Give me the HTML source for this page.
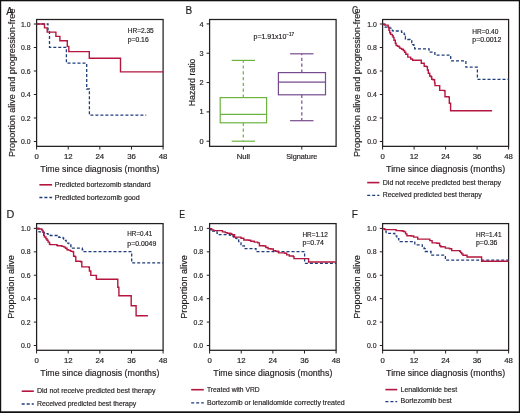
<!DOCTYPE html><html><head><meta charset="utf-8"><style>html,body{margin:0;padding:0;background:#fff;}svg{display:block;will-change:transform;}text{font-family:"Liberation Sans",sans-serif;stroke:#231f20;stroke-width:0.18px;}</style></head><body>
<svg width="520" height="413" viewBox="0 0 520 413">
<rect x="0" y="0" width="520" height="413" fill="#fff"/>
<rect x="36.6" y="19.5" width="126.5" height="126.85" fill="none" stroke="#231f20" stroke-width="1.25"/>
<line x1="33.8" y1="24" x2="36.6" y2="24" stroke="#231f20" stroke-width="1.0"/>
<text x="30.6" y="26.6" font-size="7.6" text-anchor="end" fill="#231f20" textLength="9.6" lengthAdjust="spacingAndGlyphs" >1.0</text>
<line x1="33.8" y1="47.5" x2="36.6" y2="47.5" stroke="#231f20" stroke-width="1.0"/>
<text x="30.6" y="50.1" font-size="7.6" text-anchor="end" fill="#231f20" textLength="9.6" lengthAdjust="spacingAndGlyphs" >0.8</text>
<line x1="33.8" y1="71" x2="36.6" y2="71" stroke="#231f20" stroke-width="1.0"/>
<text x="30.6" y="73.6" font-size="7.6" text-anchor="end" fill="#231f20" textLength="9.6" lengthAdjust="spacingAndGlyphs" >0.6</text>
<line x1="33.8" y1="94.5" x2="36.6" y2="94.5" stroke="#231f20" stroke-width="1.0"/>
<text x="30.6" y="97.1" font-size="7.6" text-anchor="end" fill="#231f20" textLength="9.6" lengthAdjust="spacingAndGlyphs" >0.4</text>
<line x1="33.8" y1="118" x2="36.6" y2="118" stroke="#231f20" stroke-width="1.0"/>
<text x="30.6" y="120.6" font-size="7.6" text-anchor="end" fill="#231f20" textLength="9.6" lengthAdjust="spacingAndGlyphs" >0.2</text>
<line x1="33.8" y1="141.5" x2="36.6" y2="141.5" stroke="#231f20" stroke-width="1.0"/>
<text x="30.6" y="144.1" font-size="7.6" text-anchor="end" fill="#231f20" textLength="9.6" lengthAdjust="spacingAndGlyphs" >0.0</text>
<line x1="36.6" y1="146.35" x2="36.6" y2="149.55" stroke="#231f20" stroke-width="1.0"/>
<text x="36.6" y="158.7" font-size="7.8" text-anchor="middle" fill="#231f20" >0</text>
<line x1="68.22" y1="146.35" x2="68.22" y2="149.55" stroke="#231f20" stroke-width="1.0"/>
<text x="68.22" y="158.7" font-size="7.8" text-anchor="middle" fill="#231f20" >12</text>
<line x1="99.85" y1="146.35" x2="99.85" y2="149.55" stroke="#231f20" stroke-width="1.0"/>
<text x="99.85" y="158.7" font-size="7.8" text-anchor="middle" fill="#231f20" >24</text>
<line x1="131.47" y1="146.35" x2="131.47" y2="149.55" stroke="#231f20" stroke-width="1.0"/>
<text x="131.47" y="158.7" font-size="7.8" text-anchor="middle" fill="#231f20" >36</text>
<line x1="163.1" y1="146.35" x2="163.1" y2="149.55" stroke="#231f20" stroke-width="1.0"/>
<text x="163.1" y="158.7" font-size="7.8" text-anchor="middle" fill="#231f20" >48</text>
<text x="99.85" y="171.7" font-size="9" text-anchor="middle" fill="#231f20" textLength="119" lengthAdjust="spacingAndGlyphs" >Time since diagnosis (months)</text>
<text transform="translate(15.1,82.75) rotate(-90)" x="0" y="0" font-size="9" text-anchor="middle" fill="#231f20" textLength="148.3" lengthAdjust="spacingAndGlyphs">Proportion alive and progression-free</text>
<path d="M36.6,24H48V31H49.5V47.3H66.4V63.1H86.7V89H89.4V115.2H146.2V115.2" fill="none" stroke="#1f3d7a" stroke-width="1.3" stroke-linejoin="miter" stroke-dasharray="3 2"/>
<path d="M36.6,24H44.5V27.9H47.2V32.1H55.9V36.4H59.9V40.8H67.3V46.4H68.8V51.6H89.3V58.2H120.5V71.9H163.1V71.9" fill="none" stroke="#b5163f" stroke-width="1.4" stroke-linejoin="miter"/>
<text x="127.7" y="32.8" font-size="7" text-anchor="start" fill="#231f20" textLength="26" lengthAdjust="spacingAndGlyphs" >HR=2.35</text>
<text x="127.7" y="41.5" font-size="7" text-anchor="start" fill="#231f20" textLength="21" lengthAdjust="spacingAndGlyphs" >p=0.16</text>
<line x1="39.4" y1="184.8" x2="52.1" y2="184.8" stroke="#b5163f" stroke-width="1.6"/>
<line x1="39.4" y1="197.5" x2="52.1" y2="197.5" stroke="#1f3d7a" stroke-width="1.3" stroke-dasharray="3 2"/>
<text x="54.8" y="186.8" font-size="7.4" text-anchor="start" fill="#231f20" textLength="96" lengthAdjust="spacingAndGlyphs" >Predicted bortezomib standard</text>
<text x="54.8" y="199.8" font-size="7.4" text-anchor="start" fill="#231f20" textLength="85" lengthAdjust="spacingAndGlyphs" >Predicted bortezomib good</text>
<text x="6.3" y="14.6" font-size="10" text-anchor="start" fill="#231f20" >A</text>
<rect x="209.6" y="19.5" width="126.5" height="126.85" fill="none" stroke="#231f20" stroke-width="1.25"/>
<line x1="206.6" y1="23.9" x2="209.6" y2="23.9" stroke="#231f20" stroke-width="1.0"/>
<text x="203.5" y="26.5" font-size="7.4" text-anchor="end" fill="#231f20" >4</text>
<line x1="206.6" y1="53.23" x2="209.6" y2="53.23" stroke="#231f20" stroke-width="1.0"/>
<text x="203.5" y="55.83" font-size="7.4" text-anchor="end" fill="#231f20" >3</text>
<line x1="206.6" y1="82.56" x2="209.6" y2="82.56" stroke="#231f20" stroke-width="1.0"/>
<text x="203.5" y="85.16" font-size="7.4" text-anchor="end" fill="#231f20" >2</text>
<line x1="206.6" y1="111.89" x2="209.6" y2="111.89" stroke="#231f20" stroke-width="1.0"/>
<text x="203.5" y="114.49" font-size="7.4" text-anchor="end" fill="#231f20" >1</text>
<line x1="206.6" y1="141.22" x2="209.6" y2="141.22" stroke="#231f20" stroke-width="1.0"/>
<text x="203.5" y="143.82" font-size="7.4" text-anchor="end" fill="#231f20" >0</text>
<line x1="243.4" y1="146.35" x2="243.4" y2="149.55" stroke="#231f20" stroke-width="1.0"/>
<text x="243.4" y="159" font-size="7.5" text-anchor="middle" fill="#231f20" textLength="13.3" lengthAdjust="spacingAndGlyphs" >Null</text>
<line x1="301.8" y1="146.35" x2="301.8" y2="149.55" stroke="#231f20" stroke-width="1.0"/>
<text x="301.8" y="159" font-size="7.5" text-anchor="middle" fill="#231f20" textLength="31.3" lengthAdjust="spacingAndGlyphs" >Signature</text>
<text transform="translate(194.8,82.4) rotate(-90)" x="0" y="0" font-size="9" text-anchor="middle" fill="#231f20" textLength="47.8" lengthAdjust="spacingAndGlyphs">Hazard ratio</text>
<text x="185.6" y="14" font-size="10" text-anchor="start" fill="#231f20" >B</text>
<text x="253.5" y="38.5" font-size="7" text-anchor="start" fill="#231f20" textLength="32.8" lengthAdjust="spacingAndGlyphs" >p=1.91x10</text>
<text x="286.3" y="35.7" font-size="4.8" text-anchor="start" fill="#231f20" textLength="7.8" lengthAdjust="spacingAndGlyphs" >&#8722;17</text>
<rect x="220.2" y="97.6" width="46.4" height="25.2" fill="none" stroke="#6db33f" stroke-width="1.2"/>
<line x1="220.2" y1="114.4" x2="266.6" y2="114.4" stroke="#6db33f" stroke-width="1.2"/>
<line x1="243.3" y1="97.6" x2="243.3" y2="60.4" stroke="#6db33f" stroke-width="1.2" stroke-dasharray="3.2 2.6"/>
<line x1="243.3" y1="122.8" x2="243.3" y2="141.2" stroke="#6db33f" stroke-width="1.2" stroke-dasharray="3.2 2.6"/>
<line x1="231.7" y1="60.4" x2="255" y2="60.4" stroke="#6db33f" stroke-width="1.2"/>
<line x1="231.7" y1="141.2" x2="255" y2="141.2" stroke="#6db33f" stroke-width="1.2"/>
<rect x="278.4" y="72.6" width="47.1" height="22.2" fill="none" stroke="#764b8e" stroke-width="1.2"/>
<line x1="278.4" y1="82.1" x2="325.5" y2="82.1" stroke="#764b8e" stroke-width="1.2"/>
<line x1="301.8" y1="72.6" x2="301.8" y2="53.8" stroke="#764b8e" stroke-width="1.2" stroke-dasharray="3.2 2.6"/>
<line x1="301.8" y1="94.8" x2="301.8" y2="120.7" stroke="#764b8e" stroke-width="1.2" stroke-dasharray="3.2 2.6"/>
<line x1="290.1" y1="53.8" x2="313.5" y2="53.8" stroke="#764b8e" stroke-width="1.2"/>
<line x1="290.1" y1="120.7" x2="313.5" y2="120.7" stroke="#764b8e" stroke-width="1.2"/>
<rect x="382.6" y="19.5" width="126" height="126.85" fill="none" stroke="#231f20" stroke-width="1.25"/>
<line x1="379.8" y1="24" x2="382.6" y2="24" stroke="#231f20" stroke-width="1.0"/>
<text x="376.8" y="26.6" font-size="7.6" text-anchor="end" fill="#231f20" textLength="9.6" lengthAdjust="spacingAndGlyphs" >1.0</text>
<line x1="379.8" y1="47.5" x2="382.6" y2="47.5" stroke="#231f20" stroke-width="1.0"/>
<text x="376.8" y="50.1" font-size="7.6" text-anchor="end" fill="#231f20" textLength="9.6" lengthAdjust="spacingAndGlyphs" >0.8</text>
<line x1="379.8" y1="71" x2="382.6" y2="71" stroke="#231f20" stroke-width="1.0"/>
<text x="376.8" y="73.6" font-size="7.6" text-anchor="end" fill="#231f20" textLength="9.6" lengthAdjust="spacingAndGlyphs" >0.6</text>
<line x1="379.8" y1="94.5" x2="382.6" y2="94.5" stroke="#231f20" stroke-width="1.0"/>
<text x="376.8" y="97.1" font-size="7.6" text-anchor="end" fill="#231f20" textLength="9.6" lengthAdjust="spacingAndGlyphs" >0.4</text>
<line x1="379.8" y1="118" x2="382.6" y2="118" stroke="#231f20" stroke-width="1.0"/>
<text x="376.8" y="120.6" font-size="7.6" text-anchor="end" fill="#231f20" textLength="9.6" lengthAdjust="spacingAndGlyphs" >0.2</text>
<line x1="379.8" y1="141.5" x2="382.6" y2="141.5" stroke="#231f20" stroke-width="1.0"/>
<text x="376.8" y="144.1" font-size="7.6" text-anchor="end" fill="#231f20" textLength="9.6" lengthAdjust="spacingAndGlyphs" >0.0</text>
<line x1="382.6" y1="146.35" x2="382.6" y2="149.55" stroke="#231f20" stroke-width="1.0"/>
<text x="382.6" y="158.7" font-size="7.8" text-anchor="middle" fill="#231f20" >0</text>
<line x1="414.1" y1="146.35" x2="414.1" y2="149.55" stroke="#231f20" stroke-width="1.0"/>
<text x="414.1" y="158.7" font-size="7.8" text-anchor="middle" fill="#231f20" >12</text>
<line x1="445.6" y1="146.35" x2="445.6" y2="149.55" stroke="#231f20" stroke-width="1.0"/>
<text x="445.6" y="158.7" font-size="7.8" text-anchor="middle" fill="#231f20" >24</text>
<line x1="477.1" y1="146.35" x2="477.1" y2="149.55" stroke="#231f20" stroke-width="1.0"/>
<text x="477.1" y="158.7" font-size="7.8" text-anchor="middle" fill="#231f20" >36</text>
<line x1="508.6" y1="146.35" x2="508.6" y2="149.55" stroke="#231f20" stroke-width="1.0"/>
<text x="508.6" y="158.7" font-size="7.8" text-anchor="middle" fill="#231f20" >48</text>
<text x="445.6" y="171.6" font-size="9" text-anchor="middle" fill="#231f20" textLength="119" lengthAdjust="spacingAndGlyphs" >Time since diagnosis (months)</text>
<text transform="translate(360.3,82.75) rotate(-90)" x="0" y="0" font-size="9" text-anchor="middle" fill="#231f20" textLength="148.3" lengthAdjust="spacingAndGlyphs">Proportion alive and progression-free</text>
<path d="M382.6,24.2H384.2V26.8H385.1V27.2H388.5V27.2H389.7V28.1H391V29.3H392.3V30.6H393.1V31H400.3V31H401.6V32.3H402.9V33.1H404.2V34.4H404.6V36.5H405.4V39.1H406.7V39.5H409.2V39.5H410.1V40.8H411.8V42.5H412.6V44.6H413.9V46.3H414.7V48.8H428.1V48.8H429.1V52.2H433.9V52.6H434.9V55.2H450.2V55.2H450.7V60.8H465.4V60.8H465.9V67.1H476.9V67.1H477.4V79.3H508.6V79.3" fill="none" stroke="#1f3d7a" stroke-width="1.3" stroke-linejoin="miter" stroke-dasharray="3 2"/>
<path d="M382.6,24.2H385.1V25.1H388.1V26.4H388.5V27.6H388.9V30.2H389.7V32.7H390.6V34.4H392.3V35.7H393.1V37.4H394V40.3H395.3V43.3H396.1V45.4H397.4V46.3H399.1V47.1H399.9V48.4H401.6V49.2H403.3V50.5H404.6V52.2H405.8V54.2H407.8V57.1H410.7V59H412.6V60.3H419.4V60.3H421.3V63.3H424.2V66.2H426.3V66.6H427.4V70H428.3V73.3H429.7V76H431V76.7H431.7V79.3H433V79.7H434.6V82.7H435V85.6H439V85.6H439.7V90.4H444.3V90.7H445V96.7H448.7V97.1H449.3V103.3H450.6V104H450.6V110.7H492.1V110.7" fill="none" stroke="#b5163f" stroke-width="1.4" stroke-linejoin="miter"/>
<text x="472.3" y="33.6" font-size="7" text-anchor="start" fill="#231f20" textLength="26" lengthAdjust="spacingAndGlyphs" >HR=0.40</text>
<text x="472.3" y="41.7" font-size="7" text-anchor="start" fill="#231f20" textLength="29" lengthAdjust="spacingAndGlyphs" >p=0.0012</text>
<line x1="367.2" y1="182.6" x2="379.4" y2="182.6" stroke="#b5163f" stroke-width="1.6"/>
<line x1="367.2" y1="195.4" x2="379.4" y2="195.4" stroke="#1f3d7a" stroke-width="1.3" stroke-dasharray="3 2"/>
<text x="382.8" y="184.6" font-size="7.4" text-anchor="start" fill="#231f20" textLength="118.3" lengthAdjust="spacingAndGlyphs" >Did not receive predicted best therapy</text>
<text x="382.8" y="197.3" font-size="7.4" text-anchor="start" fill="#231f20" textLength="99" lengthAdjust="spacingAndGlyphs" >Received predicted best therapy</text>
<text x="351.9" y="13.9" font-size="10" text-anchor="start" fill="#231f20" textLength="5.9" lengthAdjust="spacingAndGlyphs" >C</text>
<rect x="36.6" y="223.6" width="126.5" height="126.7" fill="none" stroke="#231f20" stroke-width="1.25"/>
<line x1="33.8" y1="228.4" x2="36.6" y2="228.4" stroke="#231f20" stroke-width="1.0"/>
<text x="30.6" y="231" font-size="7.6" text-anchor="end" fill="#231f20" textLength="9.6" lengthAdjust="spacingAndGlyphs" >1.0</text>
<line x1="33.8" y1="251.82" x2="36.6" y2="251.82" stroke="#231f20" stroke-width="1.0"/>
<text x="30.6" y="254.42" font-size="7.6" text-anchor="end" fill="#231f20" textLength="9.6" lengthAdjust="spacingAndGlyphs" >0.8</text>
<line x1="33.8" y1="275.24" x2="36.6" y2="275.24" stroke="#231f20" stroke-width="1.0"/>
<text x="30.6" y="277.84" font-size="7.6" text-anchor="end" fill="#231f20" textLength="9.6" lengthAdjust="spacingAndGlyphs" >0.6</text>
<line x1="33.8" y1="298.66" x2="36.6" y2="298.66" stroke="#231f20" stroke-width="1.0"/>
<text x="30.6" y="301.26" font-size="7.6" text-anchor="end" fill="#231f20" textLength="9.6" lengthAdjust="spacingAndGlyphs" >0.4</text>
<line x1="33.8" y1="322.08" x2="36.6" y2="322.08" stroke="#231f20" stroke-width="1.0"/>
<text x="30.6" y="324.68" font-size="7.6" text-anchor="end" fill="#231f20" textLength="9.6" lengthAdjust="spacingAndGlyphs" >0.2</text>
<line x1="33.8" y1="345.5" x2="36.6" y2="345.5" stroke="#231f20" stroke-width="1.0"/>
<text x="30.6" y="348.1" font-size="7.6" text-anchor="end" fill="#231f20" textLength="9.6" lengthAdjust="spacingAndGlyphs" >0.0</text>
<line x1="36.6" y1="350.3" x2="36.6" y2="353.5" stroke="#231f20" stroke-width="1.0"/>
<text x="36.6" y="363" font-size="7.8" text-anchor="middle" fill="#231f20" >0</text>
<line x1="68.22" y1="350.3" x2="68.22" y2="353.5" stroke="#231f20" stroke-width="1.0"/>
<text x="68.22" y="363" font-size="7.8" text-anchor="middle" fill="#231f20" >12</text>
<line x1="99.85" y1="350.3" x2="99.85" y2="353.5" stroke="#231f20" stroke-width="1.0"/>
<text x="99.85" y="363" font-size="7.8" text-anchor="middle" fill="#231f20" >24</text>
<line x1="131.47" y1="350.3" x2="131.47" y2="353.5" stroke="#231f20" stroke-width="1.0"/>
<text x="131.47" y="363" font-size="7.8" text-anchor="middle" fill="#231f20" >36</text>
<line x1="163.1" y1="350.3" x2="163.1" y2="353.5" stroke="#231f20" stroke-width="1.0"/>
<text x="163.1" y="363" font-size="7.8" text-anchor="middle" fill="#231f20" >48</text>
<text x="99.85" y="375.9" font-size="9" text-anchor="middle" fill="#231f20" textLength="119" lengthAdjust="spacingAndGlyphs" >Time since diagnosis (months)</text>
<text transform="translate(14.3,286.95) rotate(-90)" x="0" y="0" font-size="9" text-anchor="middle" fill="#231f20" textLength="63.6" lengthAdjust="spacingAndGlyphs">Proportion alive</text>
<path d="M36.6,228.5H38.3V230.8H39V231.9H42.3V231.9H43.4V232.3H44.4V233H45.9V233.7H47.7V234.1H49.5V235.2H50.2V235.5H56.8V235.5H57.9V235.9H58.6V237H59.3V237.3H61.9V237.3H63V238.1H63.7V239.2H64.8V240.3H66.2V241.7H67.7V243.2H68.8V245H70.9V246.5H72.5V248.2H81.8V248.2H82.3V249.8H82.9V251.6H131.6V251.6H131.7V262.9H163.1V262.9" fill="none" stroke="#1f3d7a" stroke-width="1.3" stroke-linejoin="miter" stroke-dasharray="3 2"/>
<path d="M36.6,228.5H39.4V229H41.9V230.1H42.6V230.8H43V232.3H43.7V235.2H44.4V237H45.9V238.8H47V240.3H48.1V242.1H49.5V244.2H50.2V244.6H56.1V244.6H56.8V245.3H57.5V245.7H60.4V245.7H61.9V246.4H64V247.1H65.5V248.2H67V249.7H68.4V250.1H70V250.6H70.9V251.4H73.1V252H73.6V256.3H75.3V256.9H75.8V261.3H80.7V261.8H81.8V266.9H88.9V267.2H89.4V271H90.8V275.4H96.2V275.8H96.4V279.2H117.6V279.2H117.8V287.3H118.8V287.6H118.9V295.8H131.1V295.8H131.2V305.8H136V305.8H136.1V315.7H147.9V315.7" fill="none" stroke="#b5163f" stroke-width="1.4" stroke-linejoin="miter"/>
<text x="127.3" y="236.2" font-size="7" text-anchor="start" fill="#231f20" textLength="25" lengthAdjust="spacingAndGlyphs" >HR=0.41</text>
<text x="127.3" y="245.7" font-size="7" text-anchor="start" fill="#231f20" textLength="29" lengthAdjust="spacingAndGlyphs" >p=0.0049</text>
<line x1="21.7" y1="391.2" x2="33.8" y2="391.2" stroke="#b5163f" stroke-width="1.6"/>
<line x1="21.7" y1="404" x2="33.8" y2="404" stroke="#1f3d7a" stroke-width="1.3" stroke-dasharray="3 2"/>
<text x="36.9" y="393.1" font-size="7.4" text-anchor="start" fill="#231f20" textLength="118.6" lengthAdjust="spacingAndGlyphs" >Did not receive predicted best therapy</text>
<text x="36.9" y="405.7" font-size="7.4" text-anchor="start" fill="#231f20" textLength="99.4" lengthAdjust="spacingAndGlyphs" >Received predicted best therapy</text>
<text x="6.6" y="218" font-size="10" text-anchor="start" fill="#231f20" textLength="7.8" lengthAdjust="spacingAndGlyphs" >D</text>
<rect x="209.6" y="223.6" width="126.5" height="126.7" fill="none" stroke="#231f20" stroke-width="1.25"/>
<line x1="206.8" y1="228.4" x2="209.6" y2="228.4" stroke="#231f20" stroke-width="1.0"/>
<text x="203.2" y="231" font-size="7.6" text-anchor="end" fill="#231f20" textLength="9.6" lengthAdjust="spacingAndGlyphs" >1.0</text>
<line x1="206.8" y1="251.82" x2="209.6" y2="251.82" stroke="#231f20" stroke-width="1.0"/>
<text x="203.2" y="254.42" font-size="7.6" text-anchor="end" fill="#231f20" textLength="9.6" lengthAdjust="spacingAndGlyphs" >0.8</text>
<line x1="206.8" y1="275.24" x2="209.6" y2="275.24" stroke="#231f20" stroke-width="1.0"/>
<text x="203.2" y="277.84" font-size="7.6" text-anchor="end" fill="#231f20" textLength="9.6" lengthAdjust="spacingAndGlyphs" >0.6</text>
<line x1="206.8" y1="298.66" x2="209.6" y2="298.66" stroke="#231f20" stroke-width="1.0"/>
<text x="203.2" y="301.26" font-size="7.6" text-anchor="end" fill="#231f20" textLength="9.6" lengthAdjust="spacingAndGlyphs" >0.4</text>
<line x1="206.8" y1="322.08" x2="209.6" y2="322.08" stroke="#231f20" stroke-width="1.0"/>
<text x="203.2" y="324.68" font-size="7.6" text-anchor="end" fill="#231f20" textLength="9.6" lengthAdjust="spacingAndGlyphs" >0.2</text>
<line x1="206.8" y1="345.5" x2="209.6" y2="345.5" stroke="#231f20" stroke-width="1.0"/>
<text x="203.2" y="348.1" font-size="7.6" text-anchor="end" fill="#231f20" textLength="9.6" lengthAdjust="spacingAndGlyphs" >0.0</text>
<line x1="209.6" y1="350.3" x2="209.6" y2="353.5" stroke="#231f20" stroke-width="1.0"/>
<text x="209.6" y="363" font-size="7.8" text-anchor="middle" fill="#231f20" >0</text>
<line x1="241.22" y1="350.3" x2="241.22" y2="353.5" stroke="#231f20" stroke-width="1.0"/>
<text x="241.22" y="363" font-size="7.8" text-anchor="middle" fill="#231f20" >12</text>
<line x1="272.85" y1="350.3" x2="272.85" y2="353.5" stroke="#231f20" stroke-width="1.0"/>
<text x="272.85" y="363" font-size="7.8" text-anchor="middle" fill="#231f20" >24</text>
<line x1="304.48" y1="350.3" x2="304.48" y2="353.5" stroke="#231f20" stroke-width="1.0"/>
<text x="304.48" y="363" font-size="7.8" text-anchor="middle" fill="#231f20" >36</text>
<line x1="336.1" y1="350.3" x2="336.1" y2="353.5" stroke="#231f20" stroke-width="1.0"/>
<text x="336.1" y="363" font-size="7.8" text-anchor="middle" fill="#231f20" >48</text>
<text x="272.85" y="375.9" font-size="9" text-anchor="middle" fill="#231f20" textLength="119" lengthAdjust="spacingAndGlyphs" >Time since diagnosis (months)</text>
<text transform="translate(186.9,286.95) rotate(-90)" x="0" y="0" font-size="9" text-anchor="middle" fill="#231f20" textLength="63.6" lengthAdjust="spacingAndGlyphs">Proportion alive</text>
<path d="M209.6,228.6H210.4V229.9H211.7V231.2H215.8V231.9H217.1V233.3H218.5V234.6H227.9V234.6H229.9V235.3H231.2V236H233.5V237.7H235.8V238.3H236.9V240H238.7V241.7H241V244.6H242.7V245.8H244.4V248.1H245V248.7H254.8V248.7H256V251.7H304.6V251.7H304.6V263.3H336.1V263.3" fill="none" stroke="#1f3d7a" stroke-width="1.3" stroke-linejoin="miter" stroke-dasharray="3 2"/>
<path d="M209.6,228.6H211.7V229.9H213.7V230.6H221.1V230.6H222.5V231.9H225.2V232.6H227.2V233.3H229.9V233.5H231.2V234.3H232.3V234.8H234.6V237.1H238.7V237.1H241V238.3H243.8V240H248.5V240.3H250.8V241.2H254.2V242.1H257.7V242.9H259.4V245.8H264V246H265.8V247.5H268.1V248.7H271V249H273.3V250.6H275.6V251.3H278.5V252.9H284.8V253.3H286.7V254.9H289.3V256H293.3V256.6H294V258.6H308.6V258.6H308.6V262H336.1V262" fill="none" stroke="#b5163f" stroke-width="1.4" stroke-linejoin="miter"/>
<text x="302.4" y="236.9" font-size="7" text-anchor="start" fill="#231f20" textLength="25.5" lengthAdjust="spacingAndGlyphs" >HR=1.12</text>
<text x="302.4" y="245.3" font-size="7" text-anchor="start" fill="#231f20" textLength="21.5" lengthAdjust="spacingAndGlyphs" >p=0.74</text>
<line x1="191.2" y1="389.7" x2="203.8" y2="389.7" stroke="#b5163f" stroke-width="1.6"/>
<line x1="191.2" y1="402.8" x2="203.8" y2="402.8" stroke="#1f3d7a" stroke-width="1.3" stroke-dasharray="3 2"/>
<text x="207" y="392.1" font-size="7.4" text-anchor="start" fill="#231f20" textLength="52.6" lengthAdjust="spacingAndGlyphs" >Treated with VRD</text>
<text x="207" y="404.7" font-size="7.4" text-anchor="start" fill="#231f20" textLength="137.8" lengthAdjust="spacingAndGlyphs" >Bortezomib or lenalidomide correctly treated</text>
<text x="179.2" y="218.1" font-size="10" text-anchor="start" fill="#231f20" textLength="5.8" lengthAdjust="spacingAndGlyphs" >E</text>
<rect x="382.6" y="223.6" width="126" height="126.7" fill="none" stroke="#231f20" stroke-width="1.25"/>
<line x1="379.8" y1="228.4" x2="382.6" y2="228.4" stroke="#231f20" stroke-width="1.0"/>
<text x="376.6" y="231" font-size="7.6" text-anchor="end" fill="#231f20" textLength="9.6" lengthAdjust="spacingAndGlyphs" >1.0</text>
<line x1="379.8" y1="251.82" x2="382.6" y2="251.82" stroke="#231f20" stroke-width="1.0"/>
<text x="376.6" y="254.42" font-size="7.6" text-anchor="end" fill="#231f20" textLength="9.6" lengthAdjust="spacingAndGlyphs" >0.8</text>
<line x1="379.8" y1="275.24" x2="382.6" y2="275.24" stroke="#231f20" stroke-width="1.0"/>
<text x="376.6" y="277.84" font-size="7.6" text-anchor="end" fill="#231f20" textLength="9.6" lengthAdjust="spacingAndGlyphs" >0.6</text>
<line x1="379.8" y1="298.66" x2="382.6" y2="298.66" stroke="#231f20" stroke-width="1.0"/>
<text x="376.6" y="301.26" font-size="7.6" text-anchor="end" fill="#231f20" textLength="9.6" lengthAdjust="spacingAndGlyphs" >0.4</text>
<line x1="379.8" y1="322.08" x2="382.6" y2="322.08" stroke="#231f20" stroke-width="1.0"/>
<text x="376.6" y="324.68" font-size="7.6" text-anchor="end" fill="#231f20" textLength="9.6" lengthAdjust="spacingAndGlyphs" >0.2</text>
<line x1="379.8" y1="345.5" x2="382.6" y2="345.5" stroke="#231f20" stroke-width="1.0"/>
<text x="376.6" y="348.1" font-size="7.6" text-anchor="end" fill="#231f20" textLength="9.6" lengthAdjust="spacingAndGlyphs" >0.0</text>
<line x1="382.6" y1="350.3" x2="382.6" y2="353.5" stroke="#231f20" stroke-width="1.0"/>
<text x="382.6" y="363" font-size="7.8" text-anchor="middle" fill="#231f20" >0</text>
<line x1="414.1" y1="350.3" x2="414.1" y2="353.5" stroke="#231f20" stroke-width="1.0"/>
<text x="414.1" y="363" font-size="7.8" text-anchor="middle" fill="#231f20" >12</text>
<line x1="445.6" y1="350.3" x2="445.6" y2="353.5" stroke="#231f20" stroke-width="1.0"/>
<text x="445.6" y="363" font-size="7.8" text-anchor="middle" fill="#231f20" >24</text>
<line x1="477.1" y1="350.3" x2="477.1" y2="353.5" stroke="#231f20" stroke-width="1.0"/>
<text x="477.1" y="363" font-size="7.8" text-anchor="middle" fill="#231f20" >36</text>
<line x1="508.6" y1="350.3" x2="508.6" y2="353.5" stroke="#231f20" stroke-width="1.0"/>
<text x="508.6" y="363" font-size="7.8" text-anchor="middle" fill="#231f20" >48</text>
<text x="445.6" y="375.9" font-size="9" text-anchor="middle" fill="#231f20" textLength="119" lengthAdjust="spacingAndGlyphs" >Time since diagnosis (months)</text>
<text transform="translate(359.9,286.95) rotate(-90)" x="0" y="0" font-size="9" text-anchor="middle" fill="#231f20" textLength="63.6" lengthAdjust="spacingAndGlyphs">Proportion alive</text>
<path d="M382.6,228.8H384.7V231.2H386.1V233.3H393.5V233.5H394.8V235.9H396.8V238.6H398.8V240.7H400.2V241.6H413.7V241.6H414.8V244.8H421.2V244.8H422.3V247.5H424V248.7H425.2V251.5H429.8V251.5H431V255.2H444.8V255.2H445.4V260.2H508.6V260.2" fill="none" stroke="#1f3d7a" stroke-width="1.3" stroke-linejoin="miter" stroke-dasharray="3 2"/>
<path d="M382.6,228.6H384.7V229.6H394.8V229.6H396.1V230.6H400.2V230.8H402.9V231.2H404.2V231.9H405.6V233.9H406.9V235.7H411.3V236H413.7V237.1H417.7V239.1H426.9V239.1H429.8V240.6H432.1V242.9H436.7V243.2H439.6V245.8H440.8V246.7H443.7V246.9H445.4V248.1H449.4V248.7H451.7V250.6H459.7V251.3H460.6V252.6H461.7V253.9H463V255.3H466.3V255.3H467V257H481.6V257H481.6V261.2H508.6V261.2" fill="none" stroke="#b5163f" stroke-width="1.4" stroke-linejoin="miter"/>
<text x="476" y="236.6" font-size="7" text-anchor="start" fill="#231f20" textLength="25.5" lengthAdjust="spacingAndGlyphs" >HR=1.41</text>
<text x="476" y="245.3" font-size="7" text-anchor="start" fill="#231f20" textLength="21.5" lengthAdjust="spacingAndGlyphs" >p=0.36</text>
<line x1="385.4" y1="389.6" x2="397.2" y2="389.6" stroke="#b5163f" stroke-width="1.6"/>
<line x1="385.4" y1="401.7" x2="397.2" y2="401.7" stroke="#1f3d7a" stroke-width="1.3" stroke-dasharray="3 2"/>
<text x="400.5" y="391.5" font-size="7.4" text-anchor="start" fill="#231f20" textLength="56.6" lengthAdjust="spacingAndGlyphs" >Lenalidomide best</text>
<text x="400.5" y="403.2" font-size="7.4" text-anchor="start" fill="#231f20" textLength="51.2" lengthAdjust="spacingAndGlyphs" >Bortezomib best</text>
<text x="351.8" y="218.1" font-size="10" text-anchor="start" fill="#231f20" >F</text>
<rect x="0" y="0" width="520" height="1.3" fill="#111"/>
<rect x="0" y="0" width="1.2" height="413" fill="#111"/>
<rect x="518.8" y="0" width="1.2" height="413" fill="#111"/>
<rect x="0" y="411.3" width="520" height="1.7" fill="#111"/>
</svg></body></html>
